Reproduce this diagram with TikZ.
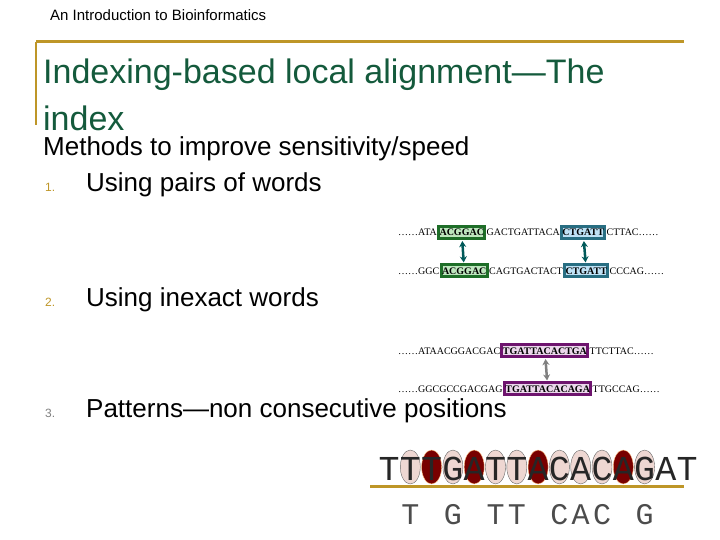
\documentclass[tikz,border=0pt]{standalone}
\usepackage{fontspec}
\setmainfont{Liberation Sans}
\newfontfamily\seqf{Liberation Serif}
\newfontfamily\patf{Liberation Mono}
\usetikzlibrary{arrows.meta,shapes.geometric}
\definecolor{gold}{RGB}{190,150,40}
\definecolor{tgreen}{RGB}{20,90,60}
\definecolor{bgreen}{RGB}{30,110,40}
\definecolor{lgreen}{RGB}{190,230,190}
\definecolor{bblue}{RGB}{40,110,130}
\definecolor{lblue}{RGB}{190,225,245}
\definecolor{bpurp}{RGB}{110,20,110}
\definecolor{lpurp}{RGB}{235,215,235}
\definecolor{darkred}{RGB}{120,0,0}
\definecolor{pink}{RGB}{238,215,210}
\tikzset{
  seq/.style={inner sep=0pt, anchor=base west, font=\seqf\fontsize{10}{12}\selectfont},
  box/.style={seq, draw=#1, line width=3pt, inner xsep=1pt, inner ysep=2.5pt},
  txt/.style={inner sep=0pt, anchor=base west},
  dbl/.style={{Stealth[length=6pt,width=7pt]}-{Stealth[length=6pt,width=7pt]}, line width=2.5pt, shorten <=1pt, shorten >=1pt},
  pat/.style={inner sep=0pt, anchor=base, font=\patf\fontsize{35}{40}\selectfont\color{black!85}},
  lo/.style={ellipse, draw=black!60, fill=pink, minimum width=20pt, minimum height=34pt, inner sep=0pt},
  dk/.style={ellipse, draw=orange!50, fill=darkred, minimum width=20pt, minimum height=34pt, inner sep=0pt},
}
\begin{document}
\begin{tikzpicture}[x=1pt,y=-1pt]
\useasboundingbox (0,0) rectangle (720,540);
\node[txt, font=\fontsize{15}{17}\selectfont] (hdr) at (50,21) {An Introduction to Bioinformatics};
\draw[gold, line width=3pt] (36,42) -- (684,42);
\draw[gold, line width=2.5pt] (36,42) -- (36,125);
\node[txt, text=tgreen, font=\fontsize{34}{38}\selectfont] (t1) at (43,84) {Indexing-based local alignment—The};
\node[txt, text=tgreen, font=\fontsize{34}{38}\selectfont] (t2) at (43,131) {index};
\node[txt, font=\fontsize{26}{30}\selectfont] (m) at (43,156) {Methods to improve sensitivity/speed};
\node[txt, text=gold, font=\fontsize{12}{14}\selectfont] (n1) at (45,192) {1.};
\node[txt, font=\fontsize{26}{30}\selectfont] (i1) at (86,192) {Using pairs of words};
\node[txt, text=gold, font=\fontsize{12}{14}\selectfont] (n2) at (45,306) {2.};
\node[txt, font=\fontsize{26}{30}\selectfont] (i2) at (86,306) {Using inexact words};
\node[txt, text=gray, font=\fontsize{12}{14}\selectfont] (n3) at (45,417) {3.};
\node[txt, font=\fontsize{26}{30}\selectfont] (i3) at (86,417) {Patterns—non consecutive positions};

% pairs of words
\node[seq] (a1) at (398,236) {……ATA};
\node[box=bgreen, fill=lgreen] (a2) at (a1.base east) {\textbf{ACGGAC}};
\node[seq] (a3) at (a2.base east) {GACTGATTACA};
\node[box=bblue, fill=lblue] (a4) at (a3.base east) {\textbf{CTGATT}};
\node[seq] (a5) at (a4.base east) {CTTAC……};
\node[seq] (b1) at (398,274) {……GGC};
\node[box=bgreen, fill=lgreen] (b2) at (b1.base east) {\textbf{ACGGAC}};
\node[seq] (b3) at (b2.base east) {CAGTGACTACT};
\node[box=bblue, fill=lblue] (b4) at (b3.base east) {\textbf{CTGATT}};
\node[seq] (b5) at (b4.base east) {CCCAG……};
\draw[dbl, teal!70!black] (a2) -- (b2);
\draw[dbl, teal!70!black] (a4) -- (b4);

% inexact
\node[seq] (c1) at (398,354) {……ATAACGGACGAC};
\node[box=bpurp, fill=lpurp] (c2) at (c1.base east) {\textbf{TGATTACACTGA}};
\node[seq] (c3) at (c2.base east) {TTCTTAC……};
\node[seq] (d1) at (398,392) {……GGCGCCGACGAG};
\node[box=bpurp, fill=lpurp] (d2) at (d1.base east) {\textbf{TGATTACACAGA}};
\node[seq] (d3) at (d2.base east) {TTGCCAG……};
\draw[dbl, gray] (c2) -- (d2);

% patterns
\foreach \i/\s in {2/lo,3/dk,4/lo,5/dk,6/lo,7/lo,8/dk,9/lo,10/lo,11/lo,12/dk,13/lo}
  \node[\s] (e\i) at ({389+21.3*(\i-1)},467) {};
\foreach \i/\c in {1/T,2/T,3/T,4/G,5/A,6/T,7/T,8/A,9/C,10/A,11/C,12/A,13/G,14/A,15/T}
  \node[pat] (p\i) at ({389+21.3*(\i-1)},480) {\c};
\draw[gold, line width=3pt] (370,486) -- (684,486);
\foreach \i/\c in {2/T,4/G,6/T,7/T,9/C,10/A,11/C,13/G}
  \node[pat, font=\patf\fontsize{30}{36}\selectfont\color{black!70}] (q\i) at ({389+21.3*(\i-1)},524) {\c};
\end{tikzpicture}
\end{document}
